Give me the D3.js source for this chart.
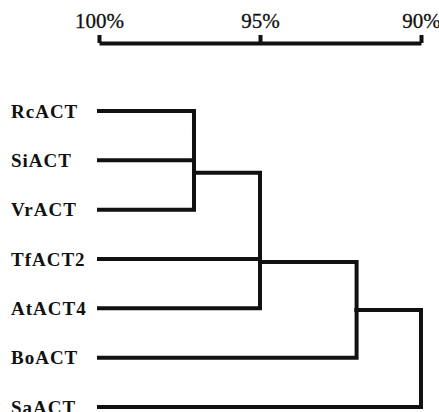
<!DOCTYPE html>
<html>
<head>
<meta charset="utf-8">
<script src="https://cdn.jsdelivr.net/npm/d3@7"></script>
<style>
  body { margin: 0; background: #fff; }
  svg { display: block; }
  .branch { fill: none; stroke: #111; stroke-width: 4; stroke-linejoin: miter; stroke-linecap: square; }
  .leaf-label { font-family: "Liberation Serif", serif; font-weight: bold; font-size: 19px; letter-spacing: 1px; fill: #111; }
  .axis text { font-family: "Liberation Serif", serif; font-size: 21px; fill: #111; stroke: #111; stroke-width: 0.3; }
  .axis path, .axis line { stroke: #111; stroke-width: 4; }
</style>
</head>
<body>
<div id="chart"></div>
<script>
// leaves, top to bottom
var leaves = ["RcACT", "SiACT", "VrACT", "TfACT2", "AtACT4", "BoACT", "SaACT"];
// merges: [childA, childB, similarity %]; ids >= leaves.length refer to earlier merges
var merges = [
  [0, 1, 97.05],
  [7, 2, 97.05],
  [8, 3, 95.0],
  [9, 4, 95.0],
  [10, 5, 92.0],
  [11, 6, 90.0]
];
var tickValues = [100, 95, 90];

var width = 439, height = 412;
var margin = { top: 43, left: 99, right: 18, bottom: 5 };

var svg = d3.select("#chart").append("svg")
  .attr("width", width)
  .attr("height", height);

// x: similarity, 100% on the left
var xScale = d3.scaleLinear()
  .domain([100, 90])
  .range([margin.left, width - margin.right]);

// y: leaf order
var yScale = d3.scalePoint()
  .domain(leaves)
  .range([111, 407]);

// axis on top
svg.append("g")
  .attr("class", "axis")
  .attr("transform", "translate(0," + margin.top + ")")
  .call(d3.axisTop(xScale)
    .tickValues(tickValues)
    .tickSize(8)
    .tickSizeOuter(0)
    .tickPadding(7)
    .tickFormat(function (d) { return d + "%"; }));

// node positions
var nodes = leaves.map(function (name) {
  return { x: xScale(100), y: yScale(name), name: name };
});
merges.forEach(function (m) {
  var a = nodes[m[0]], b = nodes[m[1]];
  nodes.push({ x: xScale(m[2]), y: (a.y + b.y) / 2, a: a, b: b });
});

// branches: each merge draws a bracket from both children
var g = svg.append("g");
nodes.slice(leaves.length).forEach(function (n) {
  [n.a, n.b].forEach(function (c) {
    var p = d3.path();
    p.moveTo(c.x, c.y);
    p.lineTo(n.x, c.y);
    p.lineTo(n.x, n.y);
    g.append("path").attr("class", "branch").attr("d", p.toString());
  });
});

// leaf labels
svg.selectAll(".leaf-label")
  .data(leaves)
  .enter().append("text")
  .attr("class", "leaf-label")
  .attr("x", 11)
  .attr("y", function (d) { return yScale(d); })
  .attr("dy", "0.35em")
  .text(function (d) { return d; });
</script>
</body>
</html>
